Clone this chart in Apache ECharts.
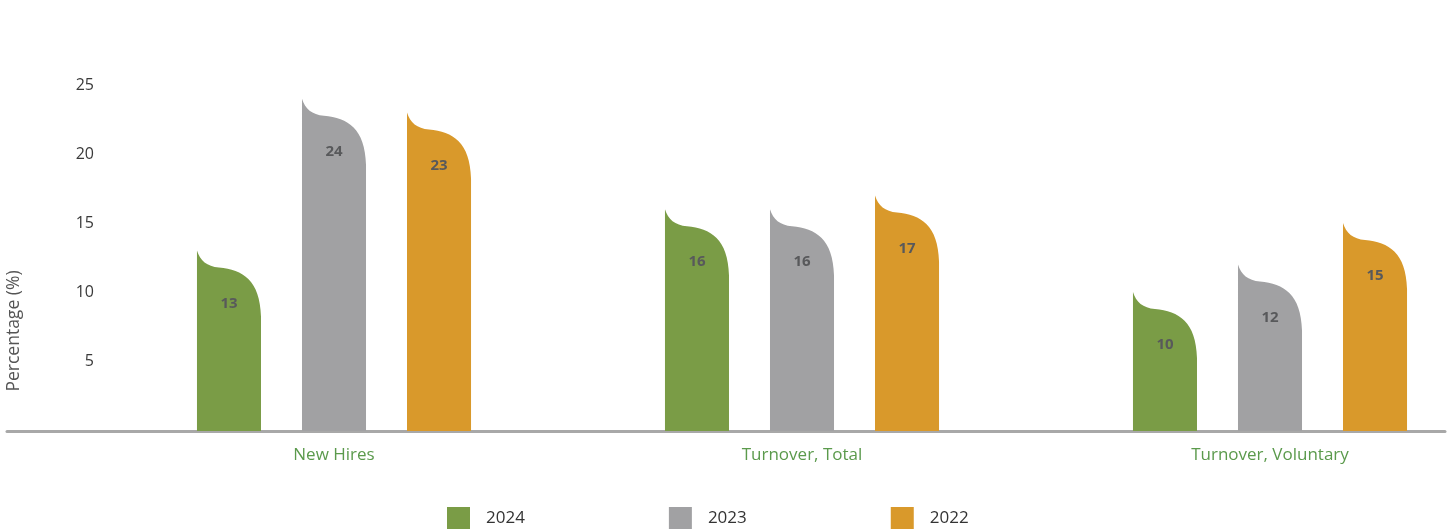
<!DOCTYPE html>
<html>
<head>
<meta charset="utf-8">
<script src="https://cdn.jsdelivr.net/npm/echarts@6/dist/echarts.min.js"></script>
<style>
  html, body { margin: 0; padding: 0; background: #ffffff; }
  #chart { width: 1452px; height: 529px; }
</style>
</head>
<body>
<div id="chart"></div>
<script>
// Workforce movement by year, percentage of headcount
const categories = ['New Hires', 'Turnover, Total', 'Turnover, Voluntary'];
const years = ['2024', '2023', '2022'];
const values2024 = [13, 16, 10];
const values2023 = [24, 16, 12];
const values2022 = [23, 17, 15];
const yTicks = [0, 5, 10, 15, 20, 25];

const seriesValues = [values2024, values2023, values2022];
const seriesColors = ['#7a9c46', '#a1a1a3', '#d9992b'];
// horizontal offset of each year's bar inside a category band (fraction of band)
const bandOffsets = [-0.2244, 0, 0.2244];
const barFraction = 0.1368;

const FONT = '"Open Sans", "Noto Sans", sans-serif';

// Leaf-topped bar: straight left edge up to the value, a curled crest,
// then down the right edge to the baseline.
function leafPath(x0, w, yTop, yBase) {
  const s = w / 64;
  const X = dx => (x0 + dx * s).toFixed(2);
  const Y = dy => (yTop + dy * s).toFixed(2);
  return 'M' + X(0) + ',' + yBase.toFixed(2) +
    ' L' + X(0) + ',' + Y(0) +
    ' C' + X(3) + ',' + Y(10) + ' ' + X(10) + ',' + Y(16) + ' ' + X(22) + ',' + Y(17) +
    ' C' + X(46) + ',' + Y(19) + ' ' + X(63) + ',' + Y(30) + ' ' + X(64) + ',' + Y(66) +
    ' L' + X(64) + ',' + yBase.toFixed(2) + ' Z';
}

function makeRenderItem(idx) {
  return function (params, api) {
    const cat = api.value(0);
    const val = api.value(1);
    const top = api.coord([cat, val]);
    const base = api.coord([cat, 0]);
    const band = api.size([1, 0])[0];
    const w = band * barFraction;
    const cx = top[0] + bandOffsets[idx] * band;
    const x0 = cx - w / 2;
    const yTop = top[1];
    const yBase = base[1] + 1;
    return {
      type: 'group',
      children: [
        {
          type: 'path',
          shape: {
            pathData: leafPath(x0, w, yTop, yBase),
            x: x0, y: yTop, width: w, height: yBase - yTop,
            layout: 'cover'
          },
          style: { fill: api.visual('color') }
        },
        {
          type: 'text',
          x: cx,
          y: yTop + 53 * (w / 64),
          style: {
            text: String(val),
            fill: '#58595b',
            font: 'bold 15px ' + FONT,
            align: 'center',
            verticalAlign: 'middle'
          },
          z2: 10
        }
      ]
    };
  };
}

const chart = echarts.init(document.getElementById('chart'), null, { renderer: 'canvas' });

chart.setOption({
  backgroundColor: '#ffffff',
  animation: false,
  textStyle: { fontFamily: FONT },
  grid: [
    { left: 100, width: 1404, top: 85, bottom: 99, outerBoundsMode: 'none', containLabel: false },
    { left: 7, right: 7, top: 85, bottom: 97.5, outerBoundsMode: 'none', containLabel: false }
  ],
  xAxis: [
    {
      type: 'category',
      gridIndex: 0,
      data: categories,
      axisLine: { show: false },
      axisTick: { show: false },
      axisLabel: { color: '#5b9a4c', fontSize: 17, margin: 17, fontFamily: FONT }
    },
    {
      type: 'value',
      gridIndex: 1,
      min: 0, max: 1,
      axisLine: { show: true, onZero: false, lineStyle: { color: '#a8a8a8', width: 3 } },
      axisTick: { show: false },
      axisLabel: { show: false },
      splitLine: { show: false }
    }
  ],
  yAxis: [
    {
      type: 'value',
      gridIndex: 0,
      min: yTicks[0],
      max: yTicks[yTicks.length - 1],
      interval: 5,
      axisLine: { show: false },
      axisTick: { show: false },
      splitLine: { show: false },
      axisLabel: {
        color: '#3a3a3a', fontSize: 16, margin: 6, fontFamily: FONT,
        formatter: v => (v === 0 ? '' : String(v))
      }
    },
    { type: 'value', gridIndex: 1, show: false }
  ],
  legend: {
    left: 442,
    top: 502,
    itemWidth: 23,
    itemHeight: 22,
    itemGap: 144,
    icon: 'rect',
    textStyle: { color: '#333333', fontSize: 17, fontFamily: FONT, padding: [0, 0, 0, 11] },
    data: years
  },
  graphic: [
    {
      type: 'text',
      x: 14,
      y: 331,
      rotation: Math.PI / 2,
      style: {
        text: 'Percentage (%)', fill: '#555555', font: '17.5px ' + FONT,
        align: 'center', verticalAlign: 'middle'
      }
    }
  ],
  series: years.map((y, i) => ({
    name: y,
    type: 'custom',
    xAxisIndex: 0,
    yAxisIndex: 0,
    renderItem: makeRenderItem(i),
    itemStyle: { color: seriesColors[i] },
    encode: { x: 0, y: 1 },
    data: seriesValues[i].map((v, c) => [c, v]),
    clip: false
  }))
});
</script>
</body>
</html>
